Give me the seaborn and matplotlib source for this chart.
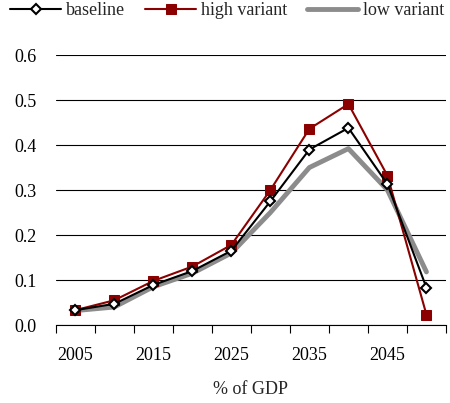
import numpy as np
import pandas as pd
import matplotlib
matplotlib.use("Agg")
import matplotlib.pyplot as plt
import seaborn as sns

years = [2005, 2010, 2015, 2020, 2025, 2030, 2035, 2040, 2045, 2050]
baseline = [0.033, 0.047, 0.089, 0.120, 0.165, 0.275, 0.390, 0.438, 0.313, 0.083]
high_variant = [0.033, 0.055, 0.098, 0.130, 0.178, 0.300, 0.436, 0.491, 0.332, 0.023]
low_variant = [0.032, 0.040, 0.085, 0.115, 0.160, 0.250, 0.350, 0.392, 0.300, 0.118]

sns.set_theme(style="white")
plt.rcParams["font.family"] = ["Liberation Serif", "DejaVu Serif"]
plt.rcParams["font.size"] = 13

pos = np.arange(len(years))
df = pd.DataFrame({"pos": pos, "baseline": baseline,
                   "high variant": high_variant, "low variant": low_variant})

fig = plt.figure(figsize=(4.5, 4.03), dpi=100)
ax = fig.add_axes([0.124, 0.1935, 0.867, 0.67])

sns.lineplot(data=df, x="pos", y="low variant", ax=ax, color="#8c8c8c",
             linewidth=3.5, label="low variant", zorder=2)
sns.lineplot(data=df, x="pos", y="high variant", ax=ax, color="#8b0000",
             linewidth=1.5, marker="s", markersize=7, markeredgecolor="#8b0000",
             label="high variant", zorder=3)
sns.lineplot(data=df, x="pos", y="baseline", ax=ax, color="black",
             linewidth=1.5, marker="D", markersize=5, markerfacecolor="white",
             markeredgecolor="black", markeredgewidth=1.5, label="baseline", zorder=4)

ax.set_xlim(-0.5, len(years) - 0.5)
ax.set_ylim(0, 0.6)
ax.set_yticks(np.arange(0, 0.61, 0.1))
ax.set_yticklabels([f"{v:.1f}" for v in np.arange(0, 0.61, 0.1)])
ax.yaxis.grid(True, color="black", linewidth=0.8)
ax.set_axisbelow(True)

ax.set_xticks(pos[::2])
ax.set_xticklabels([str(y) for y in years[::2]])
ax.set_xticks(np.arange(-0.5, len(years), 1.0), minor=True)
ax.tick_params(axis="x", which="major", length=0, pad=16)
ax.tick_params(axis="x", which="minor", length=6, width=0.8, color="black", direction="out", bottom=True)
ax.tick_params(axis="y", length=0, pad=14)
ax.tick_params(labelsize=13, colors="black")

for s in ["top", "right", "left"]:
    ax.spines[s].set_visible(False)
ax.spines["bottom"].set_color("black")
ax.spines["bottom"].set_linewidth(0.8)

ax.set_ylabel("")
ax.set_xlabel("% of GDP", fontsize=13, labelpad=12)

h, l = ax.get_legend_handles_labels()
order = [2, 1, 0]
ax.legend([h[i] for i in order], [l[i] for i in order], loc="upper center",
          bbox_to_anchor=(0.44, 1.255), ncol=3, frameon=False, fontsize=13,
          handlelength=2.8, columnspacing=1.1, handletextpad=0.3)

fig.savefig("out.png", dpi=100)
